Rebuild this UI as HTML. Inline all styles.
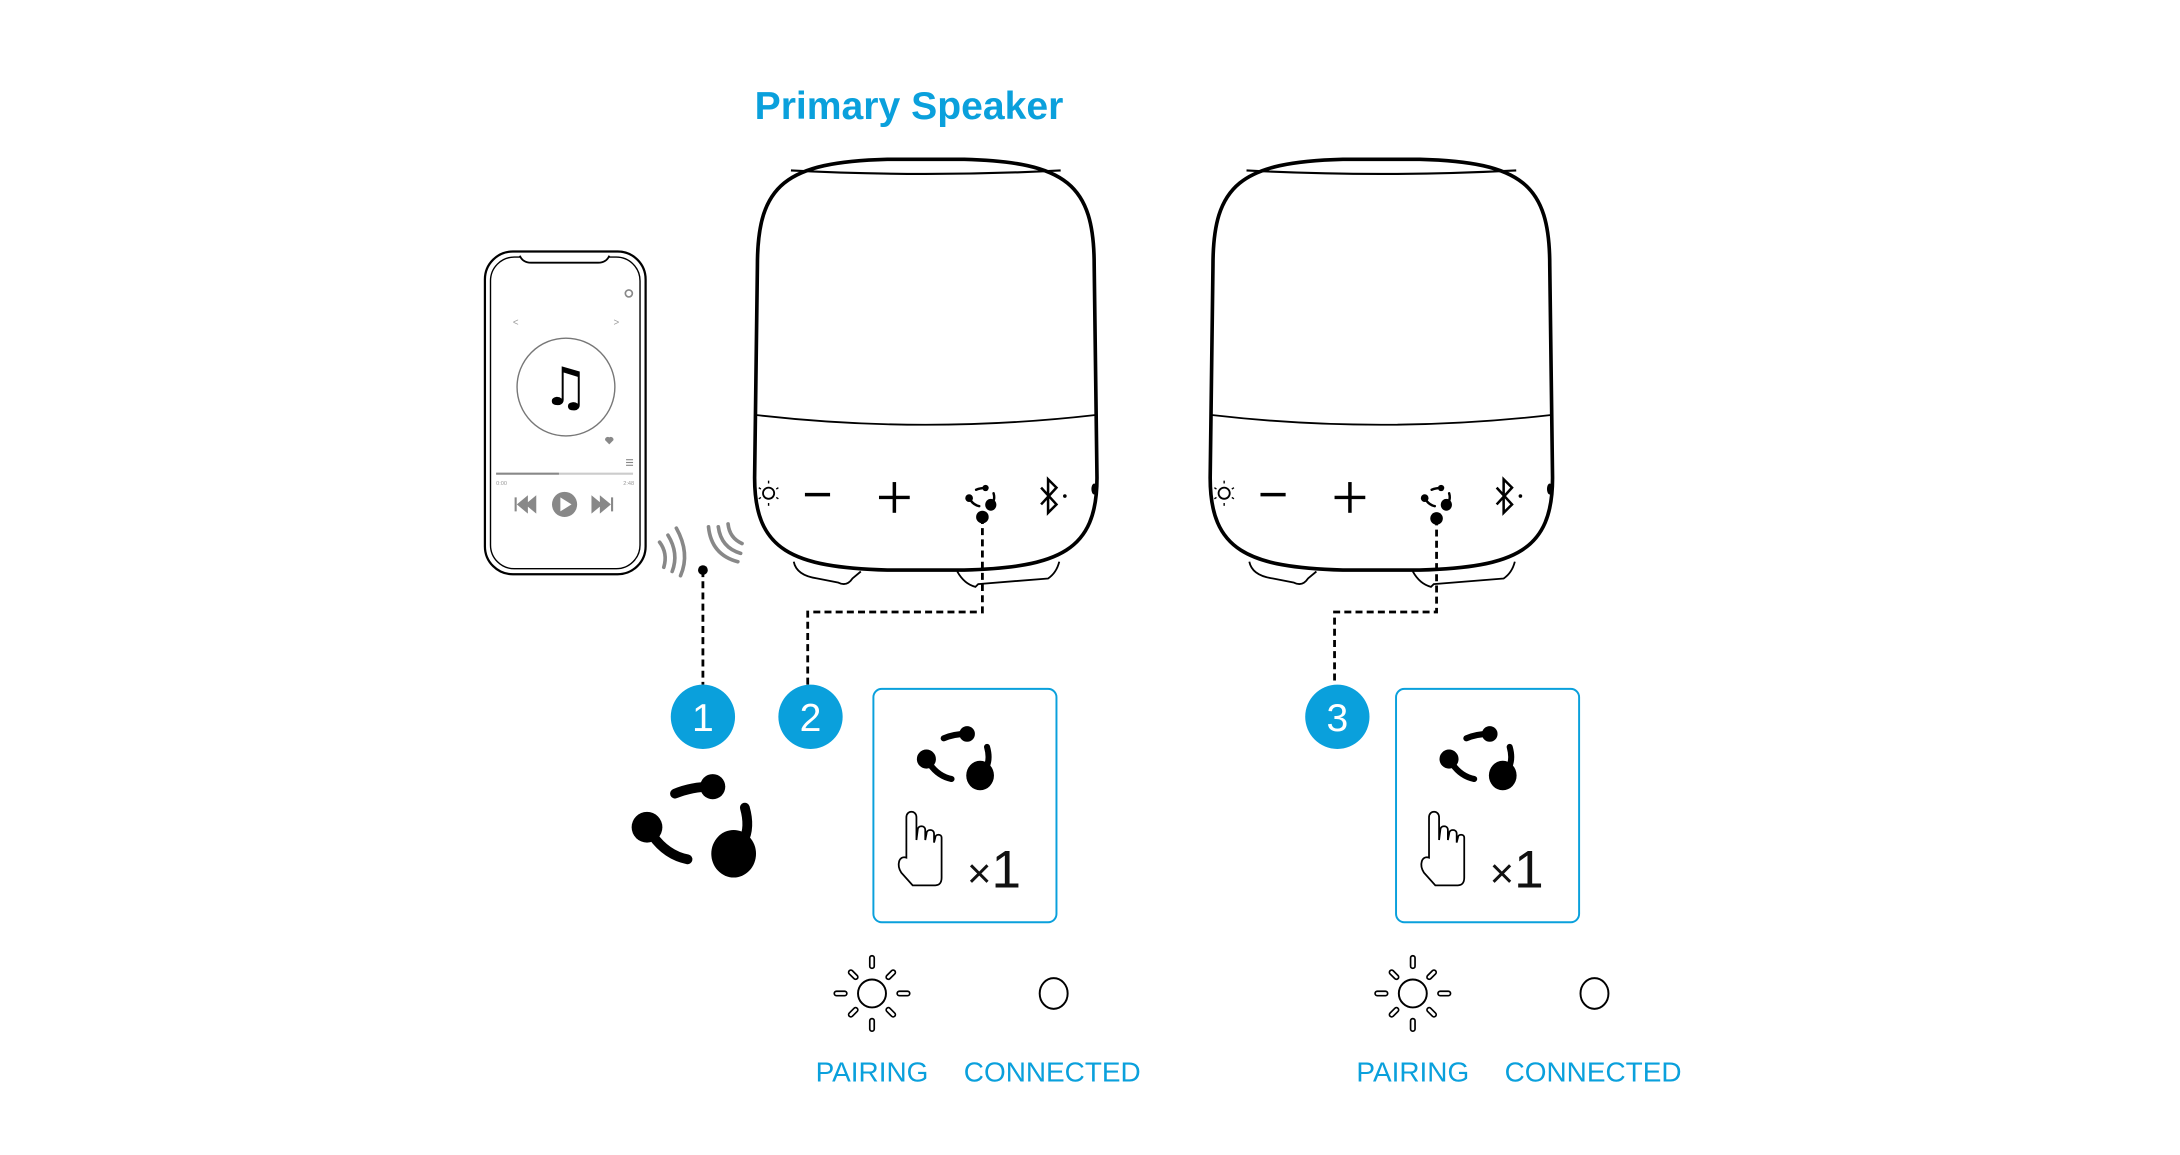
<!DOCTYPE html>
<html><head><meta charset="utf-8"><style>
html,body{margin:0;padding:0;background:#fff;}
svg{display:block;}
</style></head><body>
<svg width="2180" height="1155" viewBox="0 0 1560 826.6" preserveAspectRatio="none" xmlns="http://www.w3.org/2000/svg" font-family="Liberation Sans, sans-serif">
<defs>
  <g id="grp">
    <circle cx="13" cy="-27" r="9" fill="#000"/>
    <path d="M-14,-22 Q-2,-27 12,-27" stroke="#000" stroke-width="7" fill="none" stroke-linecap="round"/>
    <circle cx="-34" cy="2" r="11" fill="#000"/>
    <path d="M-30,8 Q-20,22 -5,25" stroke="#000" stroke-width="7" fill="none" stroke-linecap="round"/>
    <ellipse cx="28" cy="21" rx="16" ry="17" fill="#000"/>
    <path d="M36,-12 Q40,2 35,12" stroke="#000" stroke-width="7" fill="none" stroke-linecap="round"/>
  </g>
  <g id="spk">
    <path d="M2,80 C2,22 22,6 95,4 L150,4 C223,6 243,22 243,80 L245,232 C245,284 218,296 150,298 L95,298 C27,296 0,284 0,232 Z" fill="#fff" stroke="#000" stroke-width="2.6"/>
    <path d="M26,12 Q122,17 219,12" fill="none" stroke="#000" stroke-width="1.5"/>
    <path d="M1,187 Q122,201 244,187" fill="none" stroke="#000" stroke-width="1.3"/>
    <path d="M28,292 Q30,302 45,304 L60,307 Q66,310 70,304 L76,299" fill="none" stroke="#000" stroke-width="1.3"/>
    <path d="M145,299 Q150,308 158,310 L160,308 L210,304 Q216,300 218,292" fill="none" stroke="#000" stroke-width="1.3"/>
    <circle cx="10" cy="243" r="4" fill="none" stroke="#000" stroke-width="1.3"/>
    <g stroke="#000" stroke-width="1"><line x1="10" y1="234" x2="10" y2="236"/><line x1="10" y1="250" x2="10" y2="252"/><line x1="3" y1="239" x2="4.5" y2="240"/><line x1="3" y1="247" x2="4.5" y2="246"/><line x1="17" y1="239" x2="15.5" y2="240"/><line x1="17" y1="247" x2="15.5" y2="246"/></g>
    <line x1="36" y1="244" x2="54" y2="244" stroke="#000" stroke-width="2.5"/>
    <line x1="89" y1="246" x2="111" y2="246" stroke="#000" stroke-width="2.5"/>
    <line x1="100" y1="235" x2="100" y2="257" stroke="#000" stroke-width="2.5"/>
    <use href="#grp" transform="translate(162,246) scale(0.25)"/>
    <path d="M205,239 L216,251 L210,257 L210,233 L216,239 L205,251" fill="none" stroke="#000" stroke-width="1.8"/>
    <circle cx="222" cy="245" r="1.3" fill="#000"/>
    <ellipse cx="243" cy="240" rx="2" ry="4" fill="#000"/>
  </g>
  <g id="hand">
    <path d="M0,34 C-4,28 -2,20 4,22 L4,-10 C4,-16 12,-16 12,-10 L12,8 L13,0 C13,-4 19,-4 19,0 L19,8 L20,3 C20,-1 26,-1 26,3 L26,10 L27,6 C27,3 32,3 32,6 L32,38 C32,42 30,44 27,44 L9,44 Z" fill="#fff" stroke="#000" stroke-width="1.4" transform="scale(0.9)"/>
  </g>
  <g id="sun">
    <circle cx="0" cy="0" r="10" fill="none" stroke="#000" stroke-width="1.4"/>
    <g fill="none" stroke="#000" stroke-width="1.2">
      <rect x="-1.6" y="-27" width="3.2" height="9" rx="1.6"/>
      <rect x="-1.6" y="18" width="3.2" height="9" rx="1.6"/>
      <rect x="-27" y="-1.6" width="9" height="3.2" rx="1.6"/>
      <rect x="18" y="-1.6" width="9" height="3.2" rx="1.6"/>
      <rect x="-1.6" y="-23" width="3.2" height="8" rx="1.6" transform="rotate(45)"/>
      <rect x="-1.6" y="-23" width="3.2" height="8" rx="1.6" transform="rotate(-45)"/>
      <rect x="-1.6" y="15" width="3.2" height="8" rx="1.6" transform="rotate(45)"/>
      <rect x="-1.6" y="15" width="3.2" height="8" rx="1.6" transform="rotate(-45)"/>
    </g>
  </g>
</defs>

<text x="540" y="85" font-size="28" font-weight="bold" fill="#0aa0dc">Primary Speaker</text>

<use href="#spk" transform="translate(540,110)"/>
<use href="#spk" transform="translate(866,110)"/>

<rect x="347" y="180" width="115" height="231" rx="20" fill="#fff" stroke="#000" stroke-width="1.6"/>
<rect x="351" y="184" width="107" height="223" rx="17" fill="none" stroke="#000" stroke-width="1"/>
<path d="M372,183 Q374,188 380,188 L428,188 Q434,188 436,183" fill="#fff" stroke="#000" stroke-width="1.3"/>
<circle cx="405" cy="277" r="35" fill="none" stroke="#777" stroke-width="1"/>
<text x="405" y="290" font-size="38" text-anchor="middle" fill="#000" font-family="DejaVu Sans, sans-serif">♫</text>
<circle cx="450" cy="210" r="2.5" fill="none" stroke="#888" stroke-width="1.2"/>
<text x="367" y="233" font-size="7" fill="#999">&lt;</text>
<text x="439" y="233" font-size="7" fill="#999">&gt;</text>
<path d="M436,318 l-3,-3 a2,2 0 0 1 3,-2 a2,2 0 0 1 3,2 z" fill="#888"/>
<g stroke="#888" stroke-width="0.8"><line x1="448" y1="329" x2="453" y2="329"/><line x1="448" y1="331" x2="453" y2="331"/><line x1="448" y1="333" x2="453" y2="333"/></g>
<line x1="355" y1="339" x2="400" y2="339" stroke="#888" stroke-width="1.6"/>
<line x1="400" y1="339" x2="453" y2="339" stroke="#ccc" stroke-width="1.6"/>
<text x="355" y="347" font-size="4" fill="#999">0:00</text>
<text x="446" y="347" font-size="4" fill="#999">2:48</text>
<circle cx="404" cy="361" r="9" fill="#888"/>
<path d="M401,356 L409,361 L401,366 Z" fill="#fff"/>
<path d="M369,356 v10 M371,361 l6,-5 v10 z M377,361 l6,-5 v10 z" fill="#888" stroke="#888" stroke-width="1.5"/>
<path d="M424,356 v10 l6,-5 z M430,356 v10 l6,-5 z M438,356 v10" fill="#888" stroke="#888" stroke-width="1.5"/>

<g fill="none" stroke="#888" stroke-width="2.6" stroke-linecap="round">
  <path d="M472,388 Q478,396 475,406"/>
  <path d="M478,383 Q486,396 481,409"/>
  <path d="M484,378 Q494,396 487,412"/>
  <path d="M521,375 Q522,385 531,389"/>
  <path d="M514,377 Q516,392 530,396"/>
  <path d="M507,377 Q509,397 528,402"/>
</g>

<g fill="none" stroke="#000" stroke-width="2" stroke-dasharray="5,3">
  <path d="M503,408 V490"/>
  <path d="M703,370 V438 H578 V490"/>
  <path d="M1028,371 V438 H955 V490"/>
</g>
<circle cx="503" cy="408" r="3.5" fill="#000"/>
<circle cx="703" cy="370" r="4.5" fill="#000"/>
<circle cx="1028" cy="371" r="4.5" fill="#000"/>

<g font-size="28" fill="#fff" text-anchor="middle">
  <circle cx="503" cy="513" r="23" fill="#0aa0dc"/><text x="503" y="523">1</text>
  <circle cx="580" cy="513" r="23" fill="#0aa0dc"/><text x="580" y="523">2</text>
  <circle cx="957" cy="513" r="23" fill="#0aa0dc"/><text x="957" y="523">3</text>
</g>

<use href="#grp" transform="translate(497,590)"/>

<rect x="625" y="493" width="131" height="167" rx="6" fill="#fff" stroke="#0aa0dc" stroke-width="1.4"/>
<use href="#grp" transform="translate(684,542) scale(0.62)"/>
<use href="#hand" transform="translate(645,594)"/>
<text x="692" y="635" font-size="38" fill="#111" font-weight="300"><tspan font-size="30">×</tspan>1</text>

<rect x="999" y="493" width="131" height="167" rx="6" fill="#fff" stroke="#0aa0dc" stroke-width="1.4"/>
<use href="#grp" transform="translate(1058,542) scale(0.62)"/>
<use href="#hand" transform="translate(1019,594)"/>
<text x="1066" y="635" font-size="38" fill="#111" font-weight="300"><tspan font-size="30">×</tspan>1</text>

<use href="#sun" transform="translate(624,711)"/>
<ellipse cx="754" cy="711" rx="10" ry="11" fill="none" stroke="#000" stroke-width="1.4"/>
<use href="#sun" transform="translate(1011,711)"/>
<ellipse cx="1141" cy="711" rx="10" ry="11" fill="none" stroke="#000" stroke-width="1.4"/>

<g font-size="20" fill="#0aa0dc" text-anchor="middle">
  <text x="624" y="774">PAIRING</text>
  <text x="753" y="774">CONNECTED</text>
  <text x="1011" y="774">PAIRING</text>
  <text x="1140" y="774">CONNECTED</text>
</g>
</svg>
</body></html>
